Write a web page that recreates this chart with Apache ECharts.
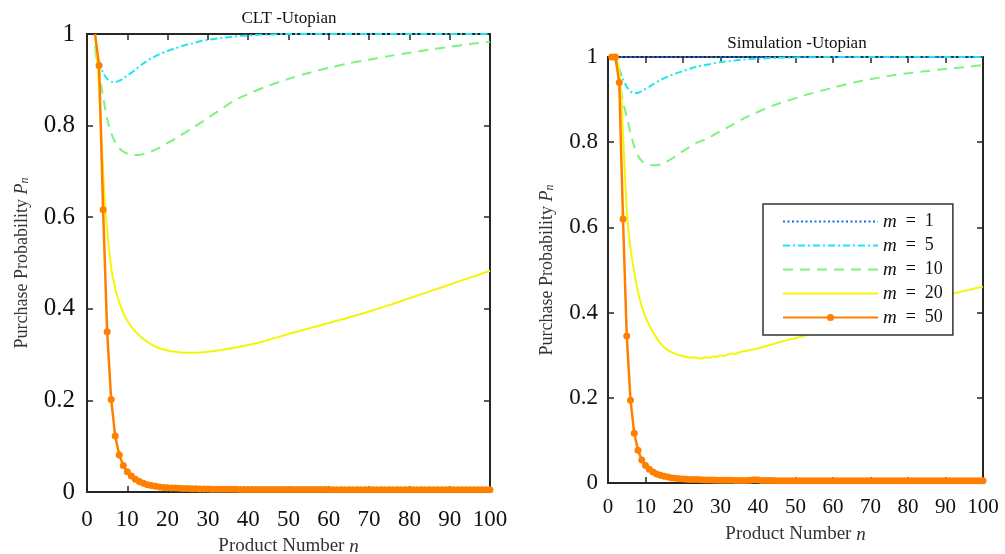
<!DOCTYPE html>
<html>
<head>
    <title>Purchase Probability - CLT vs Simulation</title>
    <meta charset="utf-8" />
    <script src="https://cdn.jsdelivr.net/npm/echarts@6/dist/echarts.min.js"></script>
    <style>
        html, body { margin: 0; padding: 0; background: #fff; }
        #main { width: 1005px; height: 554px; }
    </style>
</head>
<body>
<div id="main"></div>
<script type="text/javascript">
    // ---------- data ----------
    let legendNames = ['m = 1', 'm = 5', 'm = 10', 'm = 20', 'm = 50']
    let xTicks = { min: 0, max: 100, step: 10 }
    let yTicks = { min: 0, max: 1, step: 0.2 }

    // CLT - Utopian (curves start at n = 2)
    let cltM5 = [[2,0.974],[3,0.94],[4,0.916],[5,0.902],[6,0.896],[7,0.895],[8,0.898],[9,0.903],[10,0.909],
        [12,0.922],[14,0.936],[16,0.947],[18,0.956],[20,0.963],[22,0.969],[24,0.975],[26,0.979],[28,0.984],
        [30,0.987],[33,0.991],[36,0.994],[40,0.997],[45,0.999],[50,1],[60,1],[100,1]]
    let cltM10 = [[2,0.965],[3,0.915],[4,0.863],[5,0.815],[6,0.784],[7,0.764],[8,0.751],[9,0.743],[10,0.739],
        [11,0.737],[12,0.736],[13,0.736],[14,0.738],[16,0.744],[18,0.752],[20,0.762],[22,0.772],[24,0.783],
        [26,0.794],[28,0.805],[30,0.817],[33,0.834],[36,0.852],[40,0.869],[45,0.887],[50,0.902],[55,0.915],
        [60,0.926],[65,0.936],[70,0.944],[75,0.952],[80,0.959],[85,0.966],[90,0.972],[95,0.978],[100,0.983]]
    let cltM20 = [[2,1.0],[3,0.88],[4,0.7],[5,0.57],[6,0.49],[7,0.445],[8,0.414],[9,0.391],[10,0.374],
        [12,0.35],[14,0.334],[16,0.322],[18,0.314],[20,0.309],[22,0.306],[24,0.304],[27,0.304],[30,0.306],
        [34,0.311],[40,0.321],[45,0.332],[50,0.345],[55,0.357],[60,0.369],[65,0.381],[70,0.394],[75,0.408],
        [80,0.423],[85,0.438],[90,0.453],[95,0.468],[100,0.483]]
    let cltM50Start = 2
    let cltM50 = [1.0,0.931,0.616,0.35,0.202,0.122,0.081,0.058,0.044,
        0.035,0.028,0.023,0.019,0.016,0.014,0.0125,0.011,0.010,0.0095,
        0.009,0.0085,0.008,0.0077,0.0074,0.0071,0.0069,0.0067,0.0065,0.0063,
        0.0062,0.0061,0.006,0.006,0.0059,0.0058,0.0058,0.0057,0.0057,0.0056,
        0.0056,0.0055,0.0055,0.0055,0.0054,0.0054,0.0054,0.0053,0.0053,0.0053,
        0.0052,0.0052,0.0052,0.0052,0.0052,0.0052,0.0052,0.0052,0.0052,0.0052,
        0.0051,0.0051,0.0051,0.0051,0.0051,0.0051,0.0051,0.0051,0.0051,0.0051,
        0.005,0.005,0.005,0.005,0.005,0.005,0.005,0.005,0.005,0.005,
        0.005,0.005,0.005,0.005,0.005,0.005,0.005,0.005,0.005,0.005,
        0.0049,0.0049,0.0049,0.0049,0.0049,0.0049,0.0049,0.0049,0.0049,0.0049]

    // Simulation - Utopian (curves start at n = 1)
    let simM1 = [[1,1],[25,1],[50,1],[75,1],[100,1]]
    let simM5 = [[1,1],[2,0.994],[3,0.972],[4,0.948],[5,0.93],[6,0.919],[7,0.915],[8,0.916],[9,0.92],
        [10,0.925],[11,0.93],[12,0.936],[14,0.946],[16,0.954],[18,0.961],[20,0.967],[22,0.973],[24,0.978],
        [27,0.983],[30,0.988],[33,0.991],[36,0.994],[40,0.996],[45,0.998],[50,0.999],[60,1],[100,1]]
    let simM10 = [[1,1],[2,0.99],[3,0.945],[4,0.895],[5,0.86],[6,0.822],[7,0.79],[8,0.768],[9,0.756],
        [10,0.75],[11,0.747],[12,0.746],[13,0.746],[14,0.748],[15,0.751],[16,0.756],[18,0.767],[20,0.779],
        [22,0.79],[24,0.8],[26,0.807],[28,0.816],[30,0.826],[33,0.84],[36,0.855],[39,0.867],[42,0.879],
        [45,0.889],[48,0.898],[51,0.906],[54,0.914],[57,0.921],[60,0.928],[64,0.937],[68,0.945],[72,0.951],
        [76,0.957],[80,0.962],[85,0.967],[90,0.972],[95,0.976],[100,0.981]]
    let simM20 = [[1,1],[2,0.995],[3,0.975],[4,0.82],[5,0.64],[6,0.55],[7,0.495],[8,0.448],[9,0.415],
        [10,0.39],[11,0.37],[12,0.354],[13,0.34],[14,0.328],[15,0.318],[16,0.312],[17,0.307],[18,0.303],
        [19,0.3],[20,0.298],[21,0.296],[22,0.294],[23,0.295],[24,0.293],[25,0.292],[26,0.295],[27,0.294],
        [28,0.297],[29,0.296],[30,0.3],[31,0.298],[32,0.302],[33,0.304],[34,0.303],[35,0.307],[36,0.309],
        [37,0.31],[38,0.313],[39,0.314],[40,0.316],[42,0.321],[44,0.326],[46,0.331],[48,0.336],[50,0.34],
        [55,0.352],[60,0.364],[65,0.376],[70,0.388],[75,0.4],[80,0.412],[85,0.424],[90,0.438],[92,0.445],
        [94,0.449],[96,0.453],[98,0.457],[100,0.461]]
    let simM50Start = 1
    let simM50 = [1,1,0.94,0.62,0.345,0.194,0.117,0.077,0.054,0.041,
        0.032,0.026,0.021,0.018,0.016,0.014,0.012,0.011,0.010,0.0095,
        0.009,0.0085,0.008,0.008,0.0075,0.007,0.007,0.0068,0.0066,0.0065,
        0.0064,0.0063,0.0062,0.006,0.006,0.0059,0.0058,0.0062,0.0075,0.0068,
        0.0058,0.0057,0.0056,0.0056,0.0055,0.0055,0.0054,0.0054,0.0053,0.0053,
        0.0052,0.0052,0.0052,0.0052,0.0052,0.0052,0.0052,0.0052,0.0052,0.0052,
        0.0052,0.0051,0.0051,0.0051,0.0051,0.0051,0.0051,0.0051,0.0051,0.0051,
        0.005,0.005,0.005,0.005,0.005,0.005,0.005,0.005,0.005,0.005,
        0.005,0.005,0.005,0.005,0.005,0.005,0.005,0.005,0.005,0.005,
        0.005,0.005,0.005,0.005,0.005,0.005,0.005,0.005,0.005,0.005]

    // ---------- styles ----------
    let serif = "'Liberation Serif', 'DejaVu Serif', serif"
    let axisColor = '#262626'
    let colorM1 = '#1a6cf5'
    let colorM5 = '#1ee6f0'
    let colorM10 = '#7ef27e'
    let colorM20 = '#f5f50a'
    let colorM50 = '#ff8000'

    function seq(start, values) {
        let out = []
        for (let i = 0; i < values.length; i++) out.push([start + i, values[i]])
        return out
    }

    function axisName(size) {
        return {
            fontFamily: serif, fontSize: size, color: '#333',
            rich: {
                i: { fontFamily: serif, fontSize: size, fontStyle: 'italic', color: '#333' },
                s: { fontFamily: serif, fontSize: size - 6, fontStyle: 'italic', color: '#333', verticalAlign: 'bottom', padding: [6, 0, 0, 0] }
            }
        }
    }

    function xAxes(g, labelSize, labelMargin, nameGap) {
        let line = { show: true, onZero: false, lineStyle: { color: axisColor, width: 2 } }
        let tick = { show: true, inside: true, length: 6, lineStyle: { color: axisColor, width: 1.5 } }
        return [{
            type: 'value', gridIndex: g, position: 'bottom',
            min: xTicks.min, max: xTicks.max, interval: xTicks.step,
            axisLine: line, axisTick: tick, splitLine: { show: false },
            axisLabel: { fontFamily: serif, fontSize: labelSize, color: '#111', margin: labelMargin },
            name: 'Product Number {i|n}', nameLocation: 'middle', nameGap: nameGap,
            nameTextStyle: axisName(19)
        }, {
            type: 'value', gridIndex: g, position: 'top',
            min: xTicks.min, max: xTicks.max, interval: xTicks.step,
            axisLine: line, axisTick: tick, splitLine: { show: false },
            axisLabel: { show: false }
        }]
    }

    function yAxes(g, labelSize, labelMargin, nameGap) {
        let line = { show: true, onZero: false, lineStyle: { color: axisColor, width: 2 } }
        let tick = { show: true, inside: true, length: 6, lineStyle: { color: axisColor, width: 1.5 } }
        return [{
            type: 'value', gridIndex: g, position: 'left',
            min: yTicks.min, max: yTicks.max, interval: yTicks.step,
            axisLine: line, axisTick: tick, splitLine: { show: false },
            axisLabel: { fontFamily: serif, fontSize: labelSize, color: '#111', margin: labelMargin },
            name: 'Purchase Probability {i|P}{s|n}', nameLocation: 'middle', nameGap: nameGap,
            nameTextStyle: axisName(18)
        }, {
            type: 'value', gridIndex: g, position: 'right',
            min: yTicks.min, max: yTicks.max, interval: yTicks.step,
            axisLine: line, axisTick: tick, splitLine: { show: false },
            axisLabel: { show: false }
        }]
    }

    function plain(name, g, data, color, type) {
        return {
            name: name, type: 'line', xAxisIndex: g * 2, yAxisIndex: g * 2,
            data: data, smooth: 0.3, symbol: 'none', showSymbol: false,
            lineStyle: { color: color, width: 2, type: type }, itemStyle: { color: color },
            z: 3
        }
    }

    function marked(name, g, data) {
        return {
            name: name, type: 'line', xAxisIndex: g * 2, yAxisIndex: g * 2,
            data: data, symbol: 'circle', symbolSize: 7, showSymbol: true,
            lineStyle: { color: colorM50, width: 2.5 }, itemStyle: { color: colorM50 },
            z: 4
        }
    }

    let cltM50Data = seq(cltM50Start, cltM50)
    cltM50Data[0] = { value: cltM50Data[0], symbol: 'none' }

    let myChart = echarts.init(document.getElementById('main'), null, { renderer: 'canvas' })

    myChart.setOption({
        animation: false,
        backgroundColor: '#fff',
        title: [
            { text: 'CLT -Utopian', left: 289, top: 10, textAlign: 'center', padding: 0,
              textStyle: { fontFamily: serif, fontSize: 17, fontWeight: 'normal', color: '#111' } },
            { text: 'Simulation -Utopian', left: 797, top: 35, textAlign: 'center', padding: 0,
              textStyle: { fontFamily: serif, fontSize: 17, fontWeight: 'normal', color: '#111' } }
        ],
        grid: [
            { left: 87, top: 34, width: 403, height: 458, outerBoundsMode: 'none' },
            { left: 608, top: 57, width: 375, height: 426, outerBoundsMode: 'none' }
        ],
        xAxis: xAxes(0, 23, 16, 45).concat(xAxes(1, 21, 14, 42)),
        yAxis: yAxes(0, 25, 12, 56).concat(yAxes(1, 23, 10, 52)),
        legend: {
            show: true, orient: 'vertical', left: 763, top: 204,
            backgroundColor: '#fff', borderColor: '#333', borderWidth: 1.5, borderRadius: 0,
            padding: [8, 10, 8, 19], itemWidth: 95, itemHeight: 9, itemGap: 5,
            selectedMode: false,
            data: [
                { name: legendNames[0], itemStyle: { opacity: 0 } },
                { name: legendNames[1], itemStyle: { opacity: 0 } },
                { name: legendNames[2], itemStyle: { opacity: 0 } },
                { name: legendNames[3], itemStyle: { opacity: 0 } },
                { name: legendNames[4] }
            ],
            formatter: function (name) { return name.replace('m', '{i|m}').replace('=', ' = ') },
            textStyle: {
                fontFamily: serif, fontSize: 18, color: '#111',
                rich: { i: { fontFamily: serif, fontSize: 19, fontStyle: 'italic', color: '#111' } }
            }
        },
        series: [
            plain(legendNames[1], 0, cltM5, colorM5, [7, 3, 2, 3]),
            plain(legendNames[2], 0, cltM10, colorM10, [10, 7]),
            plain(legendNames[3], 0, cltM20, colorM20, 'solid'),
            marked(legendNames[4], 0, cltM50Data),

            plain(legendNames[0], 1, simM1, colorM1, [2, 2.5]),
            plain(legendNames[1], 1, simM5, colorM5, [7, 3, 2, 3]),
            plain(legendNames[2], 1, simM10, colorM10, [10, 7]),
            plain(legendNames[3], 1, simM20, colorM20, 'solid'),
            marked(legendNames[4], 1, seq(simM50Start, simM50))
        ]
    })
</script>
</body>
</html>
